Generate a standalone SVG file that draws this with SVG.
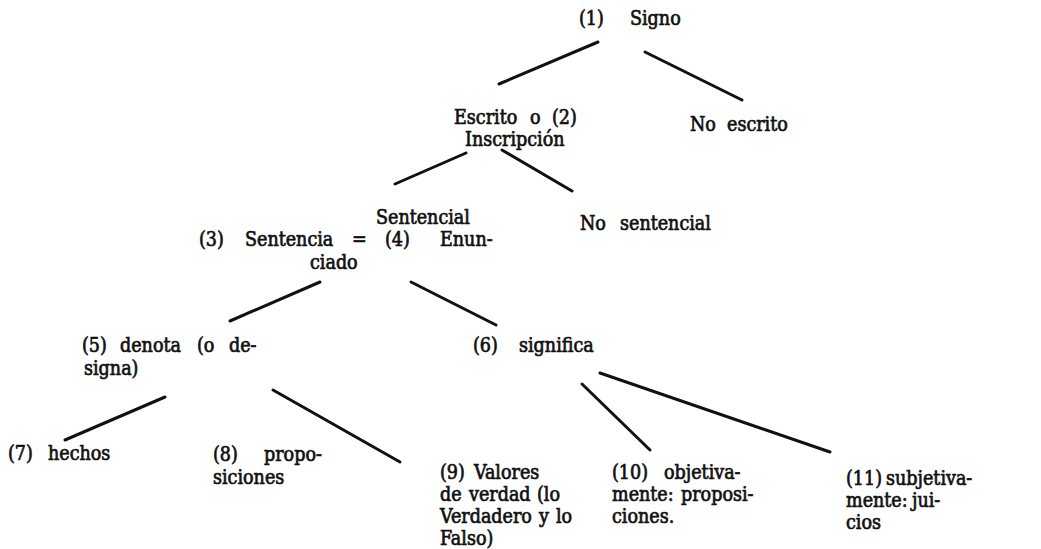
<svg xmlns="http://www.w3.org/2000/svg" width="1041" height="549" viewBox="0 0 1041 549">
<style>
text{font-family:"DejaVu Serif Condensed","DejaVu Serif","Liberation Serif",serif;font-stretch:condensed;font-size:19.5px;fill:#111;stroke:#111;stroke-width:0.65}
.e line{stroke:#111;stroke-width:3;stroke-linecap:round}
</style>
<rect width="1041" height="549" fill="#fff"/>
<g class="e" id="connectors">
<line x1="499" y1="84" x2="598" y2="42"/>
<line x1="645" y1="52" x2="742" y2="100"/>
<line x1="395" y1="184" x2="466" y2="153"/>
<line x1="502" y1="150" x2="572" y2="191"/>
<line x1="230" y1="321" x2="320" y2="282"/>
<line x1="411" y1="282" x2="496" y2="325"/>
<line x1="65" y1="440" x2="165" y2="397"/>
<line x1="273" y1="390" x2="400" y2="462"/>
<line x1="582" y1="384" x2="650" y2="450"/>
<line x1="600" y1="373" x2="830" y2="452"/>
</g>
<g id="n1"><text y="25"><tspan x="579">(1)</tspan><tspan x="630">Signo</tspan></text></g>
<g id="n2"><text y="124"><tspan x="454">Escrito</tspan><tspan x="530">o</tspan><tspan x="552">(2)</tspan></text><text x="465" y="146">Inscripción</text></g>
<g id="nNoEscrito"><text y="131"><tspan x="690">No</tspan><tspan x="727">escrito</tspan></text></g>
<g id="n3"><text x="376" y="224">Sentencial</text><text y="246"><tspan x="199">(3)</tspan><tspan x="245">Sentencia</tspan><tspan x="352">=</tspan><tspan x="385">(4)</tspan><tspan x="440">Enun-</tspan></text><text x="310" y="269">ciado</text></g>
<g id="nNoSentencial"><text y="230"><tspan x="580">No</tspan><tspan x="620">sentencial</tspan></text></g>
<g id="n5"><text y="352"><tspan x="82">(5)</tspan><tspan x="120">denota</tspan><tspan x="197">(o</tspan><tspan x="229">de-</tspan></text><text x="84" y="375">signa)</text></g>
<g id="n6"><text y="352"><tspan x="473">(6)</tspan><tspan x="519">significa</tspan></text></g>
<g id="n7"><text y="460"><tspan x="8">(7)</tspan><tspan x="48">hechos</tspan></text></g>
<g id="n8"><text y="461"><tspan x="213">(8)</tspan><tspan x="264">propo-</tspan></text><text x="213" y="484">siciones</text></g>
<g id="n9"><text y="479"><tspan x="440">(9)</tspan><tspan x="474">Valores</tspan></text><text y="501"><tspan x="440">de</tspan><tspan x="469">verdad</tspan><tspan x="537">(lo</tspan></text><text y="523"><tspan x="440">Verdadero</tspan><tspan x="539">y</tspan><tspan x="556">lo</tspan></text><text x="440" y="545">Falso)</text></g>
<g id="n10"><text y="479"><tspan x="612">(10)</tspan><tspan x="664">objetiva-</tspan></text><text y="501"><tspan x="612">mente:</tspan><tspan x="681">proposi-</tspan></text><text x="612" y="523">ciones.</text></g>
<g id="n11"><text y="485"><tspan x="846">(11)</tspan><tspan x="886">subjetiva-</tspan></text><text y="507"><tspan x="846">mente:</tspan><tspan x="912">jui-</tspan></text><text x="846" y="529">cios</text></g>
</svg>
